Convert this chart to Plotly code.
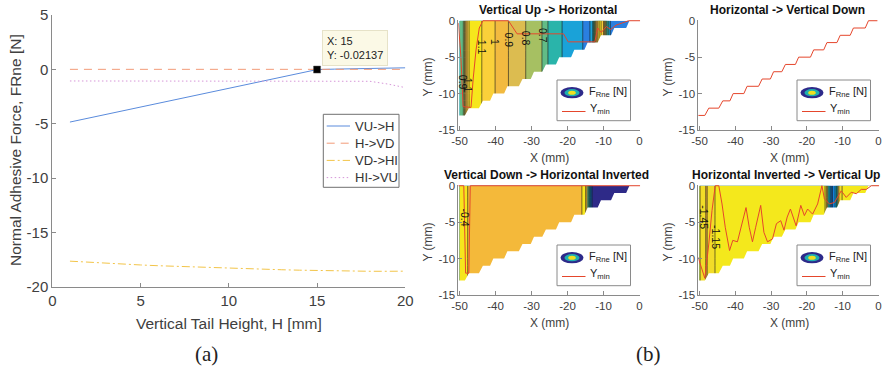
import plotly.graph_objects as go

W, H = 885, 370
FONT = "Liberation Sans"

# ---------------- Panel (a) data ----------------
tail_height = [1, 2, 3, 4, 5, 6, 7, 8, 9, 10, 11, 12, 13, 14, 15, 16, 17, 18, 19, 20]
f_vu_h = [-4.85, -4.50, -4.15, -3.81, -3.47, -3.12, -2.78, -2.43, -2.09, -1.74,
          -1.40, -1.05, -0.71, -0.36, -0.02, 0.02, 0.05, 0.08, 0.11, 0.14]
f_h_vd = [0.0, 0.0, 0.0, 0.0, 0.0, 0.0, 0.0, 0.0, 0.0, 0.0,
          0.0, 0.0, 0.0, 0.0, 0.0, 0.0, 0.0, 0.0, 0.0, 0.0]
f_vd_hi = [-17.65, -17.75, -17.85, -17.93, -18.00, -18.07, -18.13, -18.19, -18.25, -18.30,
           -18.35, -18.40, -18.44, -18.48, -18.52, -18.55, -18.57, -18.58, -18.58, -18.57]
f_hi_vu = [-1.07, -1.07, -1.07, -1.07, -1.07, -1.07, -1.07, -1.07, -1.07, -1.07,
           -1.07, -1.07, -1.07, -1.07, -1.07, -1.07, -1.07, -1.10, -1.35, -1.68]
series_names = ["VU->H", "H->VD", "VD->HI", "HI->VU"]
tip_x, tip_y = 15, -0.02137

# ---------------- Panel (b) data ----------------
x_grid = list(range(-50, 1))
y_grid = [-15, -10, -5, 0]
# force profile along X (contours are nearly vertical)
frne_vu_h = [0.64, 0.68, 0.98, 1.16, 1.17, 1.15, 1.105, 1.08, 1.05, 1.025,
             0.997, 0.97, 0.945, 0.915, 0.89, 0.87, 0.85, 0.83, 0.81, 0.785,
             0.765, 0.745, 0.72, 0.698, 0.62, 0.585, 0.56, 0.54, 0.51, 0.49,
             0.47, 0.45, 0.435, 0.42, 0.405, 0.385, 0.37, 0.50, 0.90, 1.15,
             1.00, 0.60, 0.38, 0.37, 0.37, 0.37, 0.37, 0.37, 0.37, 0.37, 0.37]
frne_vd_hi = [-0.30, -0.35, -0.38, -0.45, -0.46, -0.46, -0.46, -0.46, -0.46, -0.46,
              -0.46, -0.46, -0.46, -0.46, -0.46, -0.46, -0.46, -0.46, -0.46, -0.46,
              -0.46, -0.46, -0.46, -0.46, -0.46, -0.46, -0.46, -0.46, -0.46, -0.46,
              -0.46, -0.46, -0.46, -0.46, -0.40, -0.38, -0.90, -1.70, -1.75, -1.75,
              -1.75, -1.75, -1.75, -1.75, -1.75, -1.75, -1.75, -1.75, -1.75, -1.75, -1.75]
frne_hi_vu = [-1.12, -1.30, -1.50, -1.17, -1.16, -1.13, -1.10, -1.10, -1.10, -1.10,
              -1.10, -1.10, -1.10, -1.10, -1.10, -1.10, -1.10, -1.10, -1.10, -1.10,
              -1.10, -1.10, -1.10, -1.10, -1.10, -1.10, -1.10, -1.10, -1.10, -1.10,
              -1.10, -1.10, -1.10, -1.10, -1.10, -1.10, -1.90, -2.70, -2.30, -1.40,
              -1.10, -1.10, -1.10, -1.10, -1.10, -1.10, -1.10, -1.10, -1.10, -1.10, -1.10]

# lower boundary of the domain (staircase) = Ymin of Horizontal -> Vertical Down
stair_x = [-50.4, -48.5, -47.4, -44.6, -43.5, -41.5, -40.6, -37.6, -36.7, -33.5, -32.5, -30.2,
           -29.3, -27.0, -26.0, -23.2, -22.3, -19.0, -18.1, -15.3, -14.4, -11.6, -10.7, -7.9,
           -7.0, -3.7, -2.8, -0.3]
stair_y = [-13, -13, -12, -12, -11, -11, -10, -10, -9, -9, -8, -8,
           -7, -7, -6, -6, -5, -5, -4, -4, -3, -3, -2, -2,
           -1, -1, 0, 0]

ymin_vu_h_x = [-50.3, -49.6, -49.0, -47.6, -46.8, -46.2, -45.4, -44.5, -43.5, -36.4, -34.0,
               -21.1, -19.8, -12.4, -11.6, -10.6, -9.2, -8.0, -6.5, -3.0, 0.2]
ymin_vu_h_y = [-0.3, -5.0, -11.8, -11.9, -11.9, -8.0, -4.0, -1.0, 0.0, 0.0, -1.8,
               -1.8, -2.9, -2.9, -1.0, -1.6, -0.8, -1.2, -0.6, 0.0, 0.0]
ymin_vd_hi_x = [-50.3, -48.8, -48.3, -47.4, -47.0, 0.2]
ymin_vd_hi_y = [0.0, 0.0, -12.0, -12.0, 0.0, 0.0]
ymin_hi_vu_x = [-50.4, -48.5, -47.4, -46.5, -45.6, -44.6, -43.7, -42.8, -41.6, -40.7, -39.4,
                -38.4, -37.0, -36.1, -35.2, -34.3, -32.9, -32.0, -31.0, -29.6, -28.5, -27.3,
                -26.4, -25.5, -24.6, -23.0, -21.7, -20.7, -19.8, -18.4, -17.0, -15.8, -15.1,
                -13.7, -12.3, -10.4, -9.0, -7.6, -6.2, -4.8, -3.4, -2.0, 0.2]
ymin_hi_vu_y = [-9.8, -12.7, -8.0, -3.4, 0.0, 0.0, -2.5, -5.7, -8.9, -7.5, -7.7,
                -5.7, -3.0, -5.7, -7.7, -5.7, -2.7, -6.4, -7.7, -7.3, -5.2, -4.8,
                -6.1, -4.3, -3.2, -5.5, -2.7, -4.1, -3.2, -3.9, -2.5, 0.0, -1.8,
                -2.5, -2.3, -0.7, -1.6, -0.9, -1.1, -0.5, -0.5, 0.0, 0.0]

panel_titles = ["Vertical Up -> Horizontal", "Horizontal -> Vertical Down",
                "Vertical Down -> Horizontal Inverted", "Horizontal Inverted -> Vertical Up"]
b_xticks = [-50, -40, -30, -20, -10, 0]
b_yticks = [-15, -10, -5, 0]
a_xticks = [0, 5, 10, 15, 20]
a_yticks = [-20, -15, -10, -5, 0, 5]

# parula-like colour scales tuned per panel (band colours as seen in the figure)
cs_vu_h = [[0.0, '#2a7fe0'], [0.125, '#1aa2d8'], [0.25, '#2ab4aa'], [0.375, '#62bc86'],
           [0.5, '#a6c062'], [0.625, '#dcbc50'], [0.75, '#f2ba40'], [0.875, '#fad03a'],
           [1.0, '#f6e61c']]
cs_vd_hi = [[0.0, '#2e2a88'], [1 / 7, '#0f5cdd'], [2 / 7, '#1481d6'], [3 / 7, '#06a4ca'],
            [4 / 7, '#2eb7a4'], [5 / 7, '#87bf77'], [6 / 7, '#f4b93a'], [1.0, '#f6e61c']]
cs_hi_vu = [[0.0, '#2e2a88'], [1 / 7, '#0f5cdd'], [2 / 7, '#1481d6'], [3 / 7, '#06a4ca'],
            [4 / 7, '#2eb7a4'], [5 / 7, '#e8a838'], [6 / 7, '#f2dc28'], [1.0, '#f4e81c']]


def px(x):
    return x / W


def py(y):
    return 1 - y / H


fig = go.Figure()

AX_COL = '#8a8a8a'
TXT_COL = '#404040'

# ---------------- Panel (a) traces ----------------
a_colors = ['#5a8bdc', '#f29a78', '#f2c448', '#d696d8']
a_dash = ['solid', '8px,6px', '8px,3px,2px,3px', '1.5px,2.5px']
for vals, col, dsh, nm in zip([f_vu_h, f_h_vd, f_vd_hi, f_hi_vu], a_colors, a_dash, series_names):
    fig.add_trace(go.Scatter(x=tail_height, y=vals, mode='lines', name=nm,
                             line=dict(color=col, width=1, dash=dsh),
                             xaxis='x', yaxis='y', showlegend=False, hoverinfo='skip'))
fig.add_trace(go.Scatter(x=[tip_x], y=[tip_y], mode='markers',
                         marker=dict(symbol='square', size=7, color='black',
                                     line=dict(color='#555', width=0.5)),
                         xaxis='x', yaxis='y', showlegend=False, hoverinfo='skip'))

# ---------------- Panel (b) traces ----------------
# axis ids: TL x2/y2, TR x3/y3, BL x4/y4, BR x5/y5
contour_sets = [
    (frne_vu_h, 'x2', 'y2', 0.4, 1.1, 0.1, cs_vu_h),
    (frne_vd_hi, 'x4', 'y4', -1.6, -0.4, 0.2, cs_vd_hi),
    (frne_hi_vu, 'x5', 'y5', -2.95, -1.15, 0.3, cs_hi_vu),
]
mask_x = [-51] + stair_x + [0.6, 0.6, -51]
mask_y = [-13] + stair_y + [0, -16, -16]
for prof, xa, ya, st, en, sz, cs in contour_sets:
    z = [list(prof) for _ in y_grid]
    fig.add_trace(go.Contour(x=x_grid, y=y_grid, z=z, xaxis=xa, yaxis=ya,
                             colorscale=cs, showscale=False, hoverinfo='skip',
                             contours=dict(start=st, end=en, size=sz, coloring='fill'),
                             line=dict(color='#1a1a1a', width=0.6)))
    fig.add_trace(go.Scatter(x=mask_x, y=mask_y, mode='lines', fill='toself',
                             fillcolor='white', line=dict(width=0, color='white'),
                             xaxis=xa, yaxis=ya, showlegend=False, hoverinfo='skip'))

RED = '#e5462c'
for xs, ys, xa, ya in [(ymin_vu_h_x, ymin_vu_h_y, 'x2', 'y2'),
                       (stair_x, stair_y, 'x3', 'y3'),
                       (ymin_vd_hi_x, ymin_vd_hi_y, 'x4', 'y4'),
                       (ymin_hi_vu_x, ymin_hi_vu_y, 'x5', 'y5')]:
    fig.add_trace(go.Scatter(x=xs, y=ys, mode='lines', line=dict(color=RED, width=1),
                             xaxis=xa, yaxis=ya, showlegend=False, hoverinfo='skip'))


def axis(dom, rng, tv, fs, anchor):
    return dict(domain=dom, range=rng, anchor=anchor, tickvals=tv, automargin=False,
                ticktext=[str(v) for v in tv], showline=True, linecolor=AX_COL,
                linewidth=1, ticks='inside', ticklen=4, tickcolor=AX_COL,
                tickfont=dict(family=FONT, size=fs, color=TXT_COL),
                showgrid=False, zeroline=False, mirror=False, layer='above traces')


xl_dom = [458.4 / W, 640.2 / W]
xr_dom = [698.4 / W, 879.2 / W]
yt_dom = [py(130), py(20)]
yb_dom = [py(295), py(185)]
b_xr = [-50.3, 0.2]
b_yr = [-15, 0.1]

layout_axes = dict(
    xaxis=axis([52.3 / W, 405.3 / W], [0, 20], a_xticks, 15, 'y'),
    yaxis=axis([py(286.7), py(15)], [-20, 5], a_yticks, 15, 'x'),
    xaxis2=axis(xl_dom, b_xr, b_xticks, 11.5, 'y2'),
    yaxis2=axis(yt_dom, b_yr, b_yticks, 11.5, 'x2'),
    xaxis3=axis(xr_dom, b_xr, b_xticks, 11.5, 'y3'),
    yaxis3=axis(yt_dom, b_yr, b_yticks, 11.5, 'x3'),
    xaxis4=axis(xl_dom, b_xr, b_xticks, 11.5, 'y4'),
    yaxis4=axis(yb_dom, b_yr, b_yticks, 11.5, 'x4'),
    xaxis5=axis(xr_dom, b_xr, b_xticks, 11.5, 'y5'),
    yaxis5=axis(yb_dom, b_yr, b_yticks, 11.5, 'x5'),
)

ann = []
shapes = []


def text(x, y, s, size, color=TXT_COL, angle=0, xanchor='center', family=FONT, bold=False):
    if bold:
        s = '<b>' + s + '</b>'
    ann.append(dict(x=px(x), y=py(y), xref='paper', yref='paper', text=s, showarrow=False,
                    textangle=angle, xanchor=xanchor, yanchor='middle',
                    font=dict(family=family, size=size, color=color)))


# panel (a) labels
text(15, 150, 'Normal Adhesive Force, FRne [N]', 15.5, angle=-90)
text(229, 323, 'Vertical Tail Height, H [mm]', 15.5)
text(206, 354, '(a)', 21, color='#222', family='Liberation Serif')
text(648, 354, '(b)', 21, color='#222', family='Liberation Serif')

# datatip
ann.append(dict(x=px(322), y=py(30), xref='paper', yref='paper', xanchor='left', yanchor='top',
                text='X: 15<br>Y: -0.02137', showarrow=False, align='left',
                bgcolor='#fbf9e6', bordercolor='#e6e2c8', borderwidth=1, borderpad=4,
                font=dict(family=FONT, size=11, color='#222')))

# panel (a) legend
shapes.append(dict(type='rect', xref='paper', yref='paper', x0=px(323.3), x1=px(399),
                   y0=py(187.3), y1=py(114.3), line=dict(color='#707070', width=1),
                   fillcolor='white'))
for i, (nm, col, dsh) in enumerate(zip(series_names, a_colors, a_dash)):
    yy = 126 + i * 17.2
    shapes.append(dict(type='line', xref='paper', yref='paper', x0=px(326.7), x1=px(350),
                       y0=py(yy), y1=py(yy), line=dict(color=col, width=1, dash=dsh)))
    text(353.3, yy, nm, 13, color='#333', xanchor='left')

# panel (b) labels & legends
origins = [(459.5, 20), (699.5, 20), (459.5, 185), (699.5, 185)]
title_pos = [(548, 10), (787, 10), (546, 175), (786, 175)]
for (ox, oy), (tx, ty), tt in zip(origins, title_pos, panel_titles):
    text(tx, ty, tt, 12, color='#111', bold=True)
    text(ox + 90, oy + 138, 'X (mm)', 12)
    text(ox - 32, oy + 57, 'Y (mm)', 12, angle=-90)
    # legend box
    shapes.append(dict(type='rect', xref='paper', yref='paper', x0=px(ox + 97.5),
                       x1=px(ox + 171), y0=py(oy + 100.7), y1=py(oy + 60),
                       line=dict(color='#8a8a8a', width=1), fillcolor='white'))
    cx, cy = ox + 112.5, oy + 72.7
    for (rw, rh, colr) in [(11.5, 5.6, '#2d2a8a'), (7.5, 3.6, '#1fb0b0'), (3.8, 2.0, '#f0e020')]:
        shapes.append(dict(type='circle', xref='paper', yref='paper', x0=px(cx - rw),
                           x1=px(cx + rw), y0=py(cy + rh), y1=py(cy - rh),
                           line=dict(width=0), fillcolor=colr))
    text(ox + 127.5, oy + 72, 'F<sub>Rne</sub> [N]', 11, color='#222', xanchor='left')
    shapes.append(dict(type='line', xref='paper', yref='paper', x0=px(ox + 102.5),
                       x1=px(ox + 126), y0=py(oy + 91.5), y1=py(oy + 91.5),
                       line=dict(color=RED, width=1)))
    text(ox + 128, oy + 89, 'Y<sub>min</sub>', 11, color='#222', xanchor='left')

# contour labels (rotated)
clabels = [
    ('x2', 'y2', -43.7, -3.6, '1.1'), ('x2', 'y2', -40.0, -3.0, '1'),
    ('x2', 'y2', -36.3, -2.7, '0.9'), ('x2', 'y2', -31.7, -2.4, '0.8'),
    ('x2', 'y2', -27.0, -2.0, '0.7'), ('x2', 'y2', -49.0, -8.4, '0.9'),
    ('x2', 'y2', -47.6, -8.8, '1.1'),
    ('x4', 'y4', -48.6, -4.3, '-0.4'),
    ('x5', 'y5', -48.8, -4.3, '-1.45'), ('x5', 'y5', -45.2, -7.0, '-1.15'),
]
for xa, ya, xv, yv, s in clabels:
    ann.append(dict(x=xv, y=yv, xref=xa, yref=ya, text=s, showarrow=False, textangle=90,
                    font=dict(family=FONT, size=10.5, color='#111')))

fig.update_layout(width=W, height=H, margin=dict(l=0, r=0, t=0, b=0),
                  paper_bgcolor='white', plot_bgcolor='rgba(0,0,0,0)',
                  showlegend=False, annotations=ann, shapes=shapes, **layout_axes)

fig.write_html("out.html", config={'displayModeBar': False},
               post_script="document.body.style.margin='0';document.body.style.padding='0';")
